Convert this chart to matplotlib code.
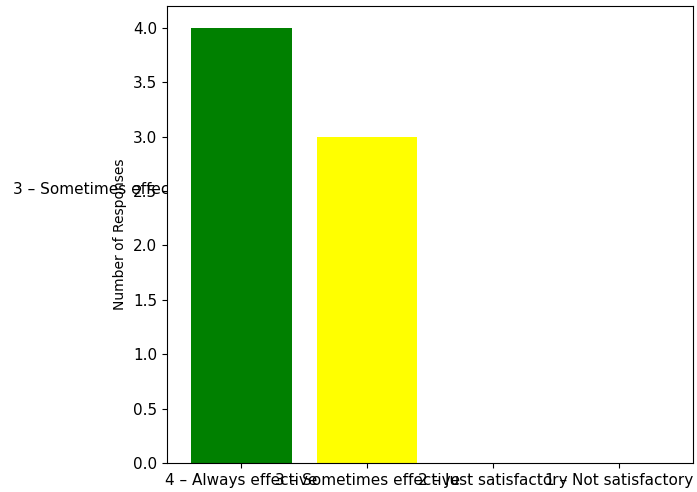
import matplotlib.pyplot as plt

# ==========================
# Data
# ==========================

categories = [
    "4 – Always effective",
    "3 – Sometimes effective",
    "2 – Just satisfactory",
    "1 – Not satisfactory",
]
responses = [4, 3, 0, 0]
bar_colors = ["green", "yellow", "red", "darkred"]

stray_label = "3 – Sometimes effective"

# ==========================
# Plot
# ==========================

fig = plt.figure(figsize=(6.97, 4.92), dpi=100)
ax = fig.add_axes([167 / 697, 29 / 492, 526 / 697, 457 / 492])

ax.bar(categories, responses, color=bar_colors)
ax.set_ylabel("Number of Responses", fontsize=10)
ax.tick_params(axis="both", labelsize=11)

# leftover label sitting behind the axes (axes background hides its end)
fig.text(13 / 697, 1 - 190 / 492, stray_label, va="center", ha="left",
         fontsize=11, zorder=-1)

fig.savefig("out.png", dpi=100)
